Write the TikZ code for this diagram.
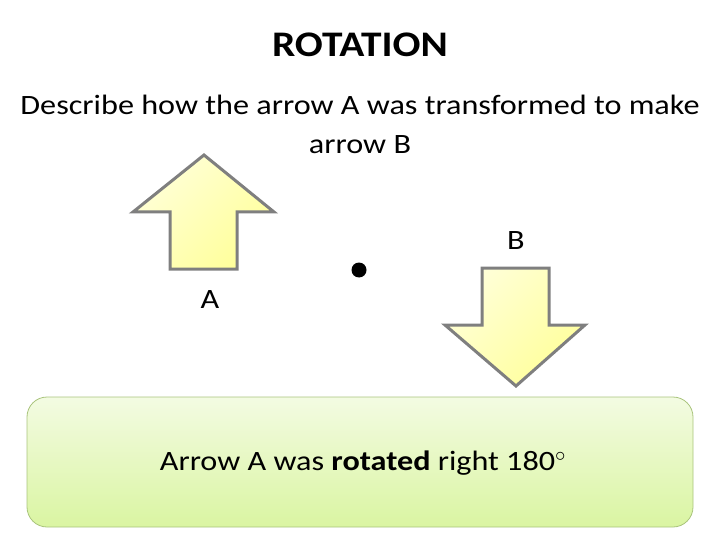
\documentclass[tikz,border=0pt]{standalone}
\usepackage{fontspec}
\setmainfont{Carlito}[FakeStretch=1.15]
\usepackage{xcolor}
\usetikzlibrary{positioning}

\definecolor{arrowfill}{HTML}{FFFF9A}
\definecolor{arrowpale}{HTML}{FFFFD8}
\definecolor{arrowline}{HTML}{7F7F7F}
\definecolor{boxtop}{HTML}{F3FBE2}
\definecolor{boxbottom}{HTML}{DAF5A2}
\definecolor{boxline}{HTML}{A9C47C}

\begin{document}
\begin{tikzpicture}[
    x=1pt, y=-1pt,
    txt/.style={font=\fontsize{28}{39}\selectfont, inner sep=0pt, align=center},
    blockarrow/.style={draw=arrowline, line width=3pt, line join=miter, left color=arrowpale, right color=arrowfill, shading angle=45},
    answerbox/.style={draw=boxline, line width=0.8pt, rounded corners=20pt, top color=boxtop, bottom color=boxbottom}
]
    \useasboundingbox (0,0) rectangle (720,540);

    % Title and question
    \node[txt, font=\fontsize{36}{40}\selectfont\bfseries] (title) at (360,45) {ROTATION};
    \node[txt] (question) at (360,124) {Describe how the arrow A was transformed to make\\arrow B};

    % Arrow A (pointing up)
    \draw[blockarrow] (204,155) -- (274,212) -- (237,212) -- (237,269)
        -- (170,269) -- (170,212) -- (133,212) -- cycle;
    \node[txt] (labA) at (210,300) {A};

    % Centre of rotation
    \fill (359,270) circle (7.5pt) coordinate (centre);

    % Arrow B (pointing down)
    \draw[blockarrow] (482,268) -- (549,268) -- (549,325) -- (585,325)
        -- (516,386) -- (445,325) -- (482,325) -- cycle;
    \node[txt] (labB) at (516,241) {B};

    % Answer box
    \draw[answerbox] (27,397) rectangle (693,527);
    \node[txt] (answer) at (363,463) {Arrow A was \textbf{rotated} right 180$^\circ$};
\end{tikzpicture}
\end{document}
